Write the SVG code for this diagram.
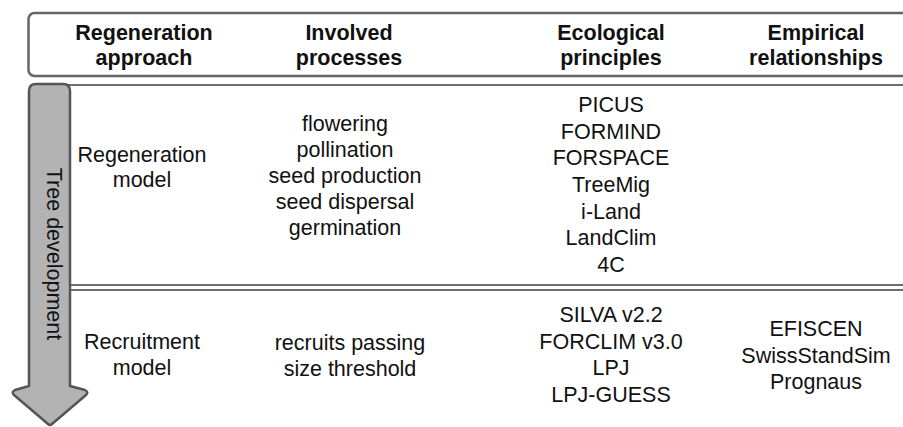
<svg xmlns="http://www.w3.org/2000/svg" width="903" height="427" viewBox="0 0 903 427">
<style>
.h{font-family:"Liberation Sans",Arial,sans-serif;font-weight:bold;font-size:21.5px;fill:#111;text-anchor:middle}
.t{font-family:"Liberation Sans",Arial,sans-serif;font-size:21.5px;fill:#111;text-anchor:middle}
.rule{stroke:#6e6e6e;stroke-width:2;fill:none}
</style>
<rect width="903" height="427" fill="#fff"/>
<g id="header">
<rect x="28.5" y="13" width="890" height="63" rx="6" fill="#fff" stroke="#666" stroke-width="2.5"/>
<text class="h" x="144" y="40">Regeneration</text>
<text class="h" x="144" y="65">approach</text>
<text class="h" x="349" y="40">Involved</text>
<text class="h" x="349" y="65">processes</text>
<text class="h" x="611" y="40">Ecological</text>
<text class="h" x="611" y="65">principles</text>
<text class="h" x="816" y="40">Empirical</text>
<text class="h" x="816" y="65">relationships</text>
</g>
<g id="connectors">
<line class="rule" x1="68" y1="85" x2="903" y2="85"/>
<line class="rule" x1="68" y1="285" x2="903" y2="285"/>
<line class="rule" x1="68" y1="290" x2="903" y2="290"/>
</g>
<g id="arrow">
<path d="M29,91 Q29,84 36,84 L63,84 Q70,84 70,91 L70,386 L85,390 Q89,392 86,395 L52,424 Q50,426 48,424 L14,395 Q11,392 15,390 L29,386 Z" fill="#b3b3b3" stroke="#555" stroke-width="2.5" stroke-linejoin="round"/>
<text class="t" transform="translate(47,254) rotate(90)">Tree development</text>
</g>
<g id="regeneration-row">
<text class="t" x="142" y="162">Regeneration</text>
<text class="t" x="142" y="187">model</text>
<text class="t" x="345" y="131">flowering</text>
<text class="t" x="345" y="157">pollination</text>
<text class="t" x="345" y="183">seed production</text>
<text class="t" x="345" y="209">seed dispersal</text>
<text class="t" x="345" y="235">germination</text>
<text class="t" x="611" y="112">PICUS</text>
<text class="t" x="611" y="138.7">FORMIND</text>
<text class="t" x="611" y="165.3">FORSPACE</text>
<text class="t" x="611" y="192">TreeMig</text>
<text class="t" x="611" y="218.7">i-Land</text>
<text class="t" x="611" y="245.3">LandClim</text>
<text class="t" x="611" y="272">4C</text>
</g>
<g id="recruitment-row">
<text class="t" x="142" y="349">Recruitment</text>
<text class="t" x="142" y="375">model</text>
<text class="t" x="350" y="350">recruits passing</text>
<text class="t" x="350" y="376">size threshold</text>
<text class="t" x="611" y="322">SILVA v2.2</text>
<text class="t" x="611" y="348.5">FORCLIM v3.0</text>
<text class="t" x="611" y="375">LPJ</text>
<text class="t" x="611" y="401.5">LPJ-GUESS</text>
<text class="t" x="816" y="336">EFISCEN</text>
<text class="t" x="816" y="362.5">SwissStandSim</text>
<text class="t" x="816" y="389">Prognaus</text>
</g>
</svg>
